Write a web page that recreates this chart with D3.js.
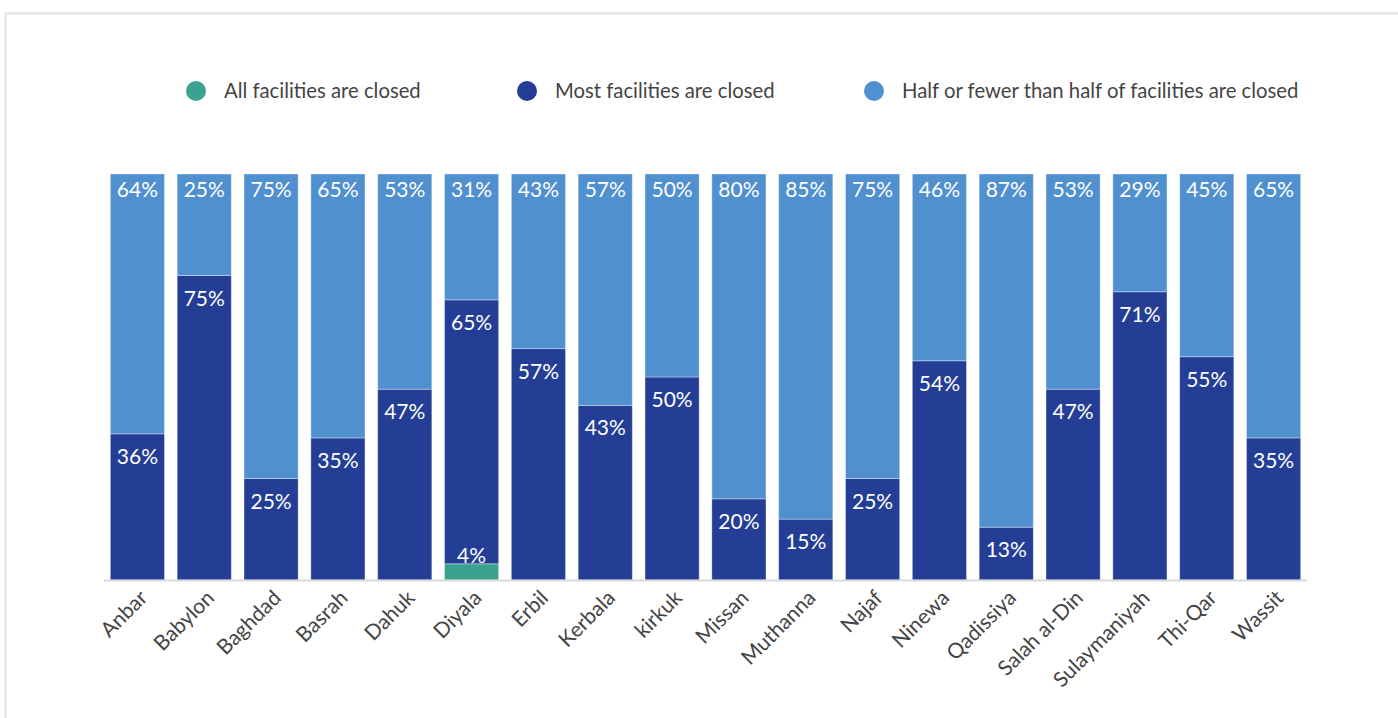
<!DOCTYPE html>
<html lang="en">
<head>
<meta charset="UTF-8">
<title>Facilities closed by governorate</title>
<style>
  body { margin: 0; background: #fff; }
  svg { display: block; font-family: Lato, "Open Sans", sans-serif; }
</style>
</head>
<body>
<svg width="1398" height="718"></svg>
<script src="https://d3js.org/d3.v7.min.js"></script>
<script>
  // data
  const governorates = ["Anbar", "Babylon", "Baghdad", "Basrah", "Dahuk", "Diyala", "Erbil", "Kerbala", "kirkuk",
    "Missan", "Muthanna", "Najaf", "Ninewa", "Qadissiya", "Salah al-Din", "Sulaymaniyah", "Thi-Qar", "Wassit"];
  const allClosed  = [0, 0, 0, 0, 0, 4, 0, 0, 0, 0, 0, 0, 0, 0, 0, 0, 0, 0];
  const mostClosed = [36, 75, 25, 35, 47, 65, 57, 43, 50, 20, 15, 25, 54, 13, 47, 71, 55, 35];
  const halfClosed = [64, 25, 75, 65, 53, 31, 43, 57, 50, 80, 85, 75, 46, 87, 53, 29, 45, 65];

  const seriesNames = ["All facilities are closed", "Most facilities are closed", "Half or fewer than half of facilities are closed"];
  const seriesColors = ["#3aa38f", "#233e94", "#5190cf"];

  const svg = d3.select("svg");

  // light frame around the card
  svg.append("rect")
    .attr("x", 5.5).attr("y", 13.5)
    .attr("width", 1400).attr("height", 720)
    .attr("fill", "none").attr("stroke", "#e2e2e2").attr("stroke-width", 2);

  const plot = { left: 104, right: 1307, top: 174, bottom: 580 };

  const x = d3.scaleBand().domain(governorates).range([plot.left, plot.right]).paddingInner(0.19).paddingOuter(0.095);
  const y = d3.scaleLinear().domain([0, 100]).range([plot.bottom, plot.top]);

  const rows = governorates.map((g, i) => ({ name: g, all: allClosed[i], most: mostClosed[i], half: halfClosed[i] }));
  const keys = ["all", "most", "half"];
  const stacked = d3.stack().keys(keys)(rows);

  const layer = svg.selectAll("g.layer")
    .data(stacked)
    .enter().append("g")
    .attr("class", "layer")
    .attr("fill", (d, i) => seriesColors[i]);

  layer.selectAll("rect")
    .data(d => d.filter(s => s[1] - s[0] > 0))
    .enter().append("rect")
    .attr("x", d => x(d.data.name))
    .attr("y", d => y(d[1]))
    .attr("width", x.bandwidth())
    .attr("height", d => y(d[0]) - y(d[1]))
    .attr("stroke", "rgba(255,255,255,0.35)")
    .attr("stroke-width", 1);

  // value labels at the top of each segment (drawn above all bars)
  const segs = [];
  stacked.forEach((ser, k) => ser.forEach(s => { if (s[1] - s[0] > 0) segs.push({ s: s, k: k }); }));

  svg.append("g").selectAll("text")
    .data(segs)
    .enter().append("text")
    .attr("x", d => x(d.s.data.name) + x.bandwidth() / 2)
    .attr("y", d => {
      const v = d.s[1] - d.s[0];
      if (v < 8) return y(d.s[1]) - 1;
      return y(d.s[1]) + (d.k === 2 ? 23 : 30);
    })
    .attr("text-anchor", "middle")
    .attr("fill", "#fff")
    .attr("font-size", 21)
    .text(d => (d.s[1] - d.s[0]) + "%");

  // baseline
  svg.append("line")
    .attr("x1", plot.left).attr("x2", plot.right)
    .attr("y1", plot.bottom + 0.5).attr("y2", plot.bottom + 0.5)
    .attr("stroke", "#d9d9d9").attr("stroke-width", 2);

  // rotated category labels
  svg.append("g").selectAll("text")
    .data(governorates)
    .enter().append("text")
    .attr("transform", d => `translate(${x(d) + x.bandwidth() / 2 + 6},${plot.bottom + 14}) rotate(-45)`)
    .attr("text-anchor", "end")
    .attr("dy", "0.35em")
    .attr("fill", "#444")
    .attr("font-size", 21)
    .text(d => d);

  // legend
  const legendX = [196, 527, 874];
  const legend = svg.append("g").selectAll("g")
    .data(seriesNames)
    .enter().append("g")
    .attr("transform", (d, i) => `translate(${legendX[i]},91)`);
  legend.append("circle").attr("r", 10).attr("fill", (d, i) => seriesColors[i]);
  legend.append("text")
    .attr("x", 28).attr("dy", "0.35em")
    .attr("fill", "#444").attr("font-size", 20.3)
    .text(d => d);
</script>
</body>
</html>
